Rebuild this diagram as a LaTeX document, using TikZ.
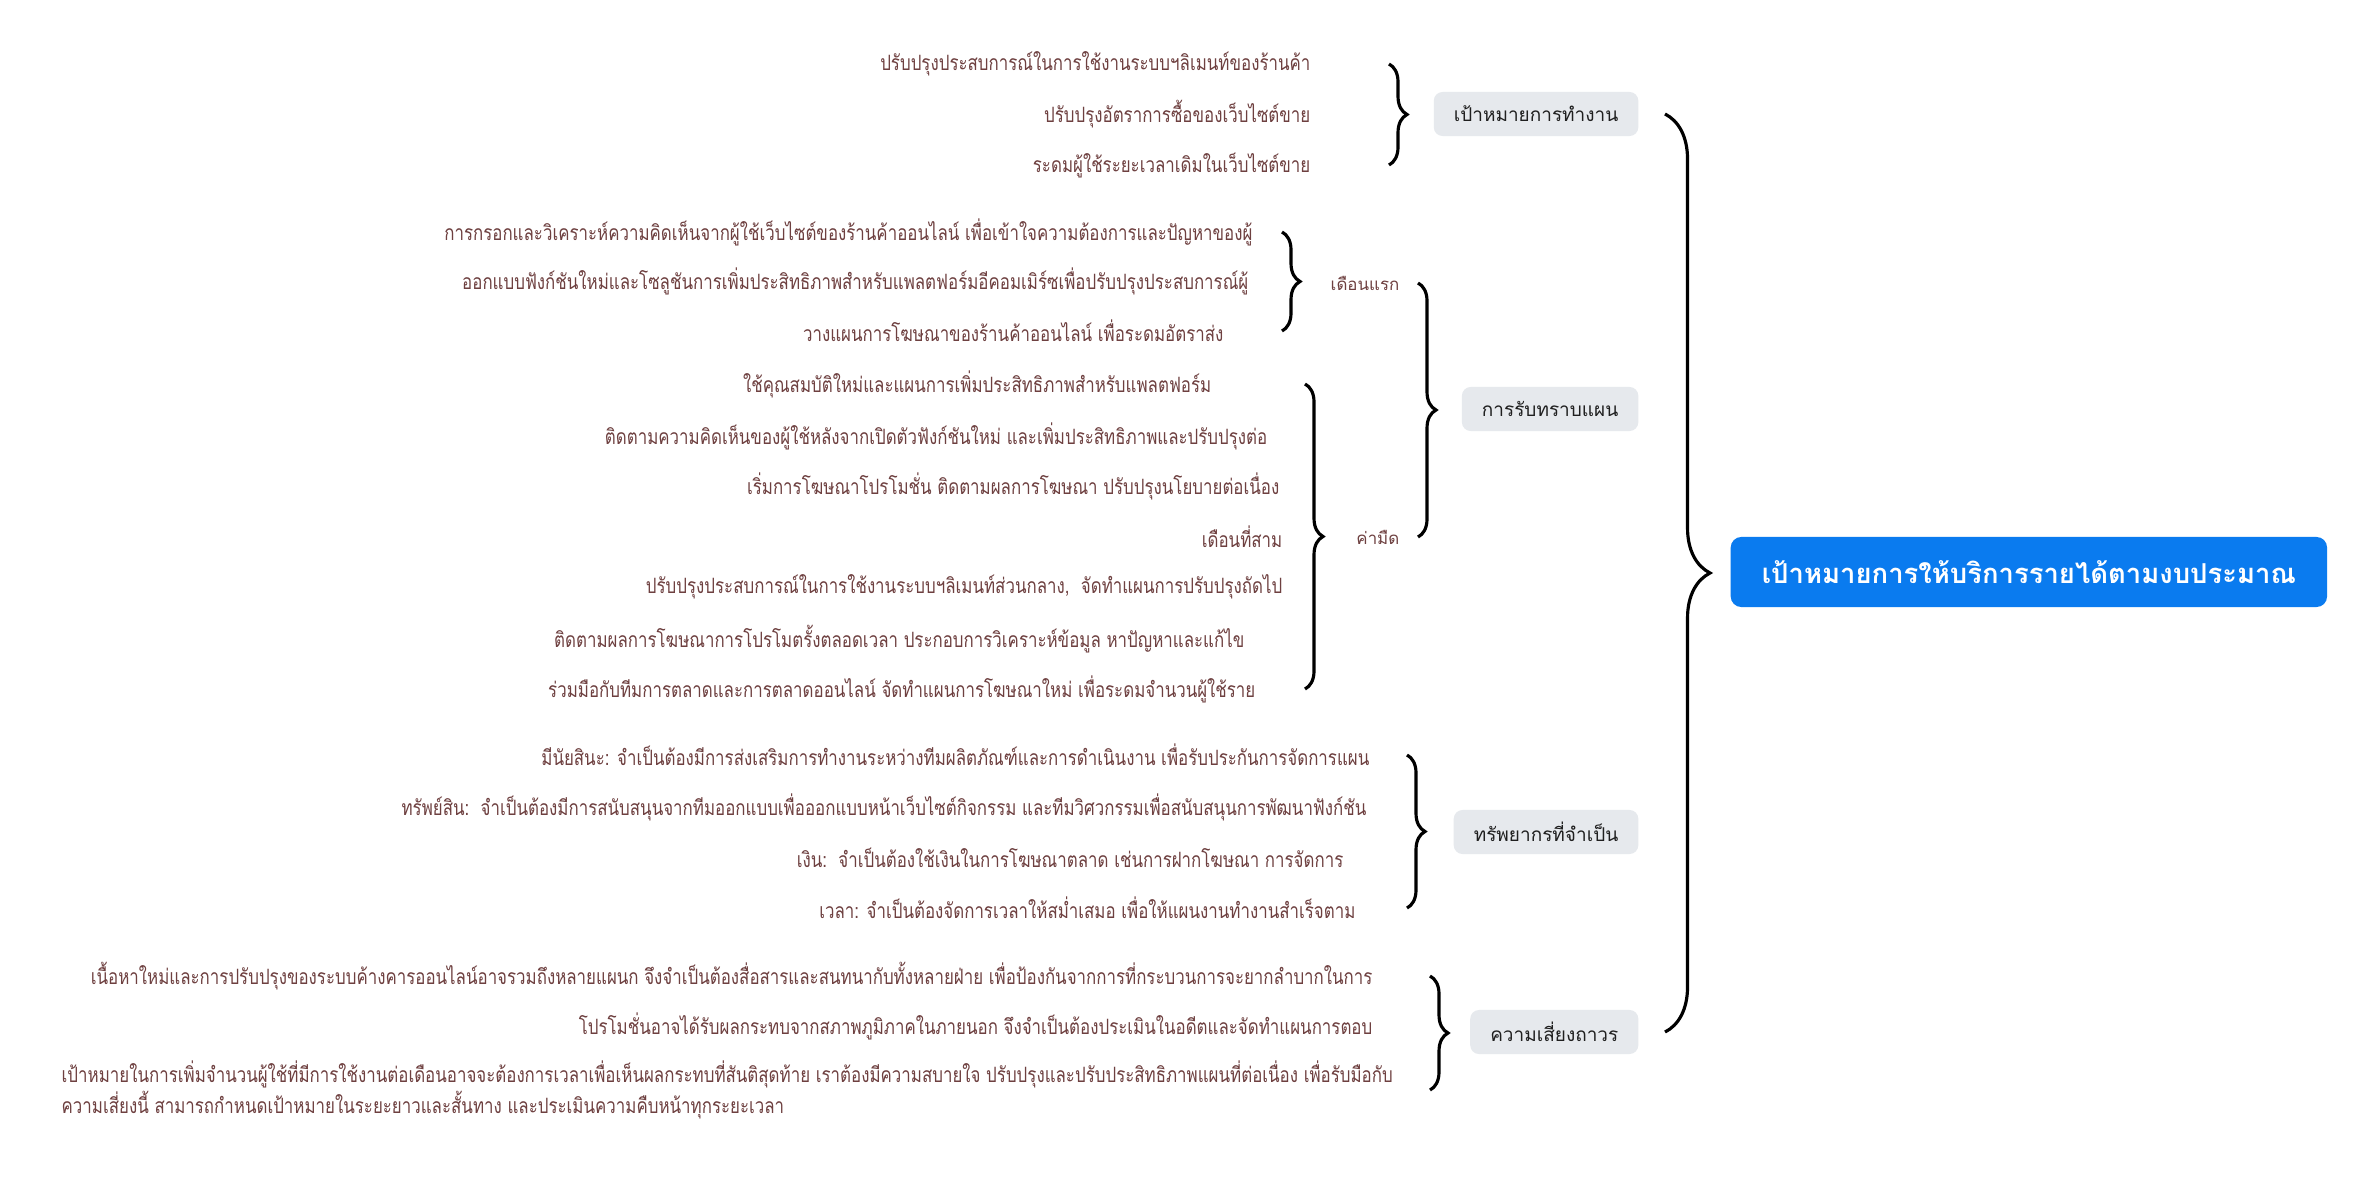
\documentclass[tikz,border=0pt]{standalone}
\usepackage{fontspec}
\usepackage{xcolor}
\usepackage{tikz}
\usetikzlibrary{decorations.pathreplacing,calc}
\newfontfamily\thaifont[Script=Thai]{Loma}
\newfontfamily\leaffont[Script=Thai,FakeStretch=0.80]{Loma}
\definecolor{rootblue}{HTML}{0A7BEF}
\definecolor{topicbg}{HTML}{E6E9ED}
\definecolor{leafink}{HTML}{6E4040}
\definecolor{ink}{HTML}{1F1F1F}
\tikzset{
  leaf/.style={anchor=east,inner sep=0pt,text=leafink,
               font=\leaffont\fontsize{6}{6.9}\selectfont},
  sublabel/.style={anchor=east,inner sep=0pt,text=leafink,
                   font=\thaifont\fontsize{4.8}{6}\selectfont},
  topic/.style={anchor=east,fill=topicbg,rounded corners=2.5pt,
                minimum height=0.44cm,inner xsep=0.2cm,text=ink,
                font=\thaifont\fontsize{5.4}{7}\selectfont},
  rootnode/.style={anchor=west,fill=rootblue,rounded corners=3pt,
                   minimum width=5.96cm,minimum height=0.7cm,text=white,
                   font=\thaifont\bfseries\fontsize{7.8}{9}\selectfont},
  brc/.style={decorate,decoration={brace,amplitude=0.18cm},
              line width=0.9pt,black},
  bigbrc/.style={decorate,decoration={brace,amplitude=0.45cm},
                 line width=0.9pt,black},
}

\begin{document}
\begin{tikzpicture}[x=0.01cm,y=-0.01cm]
  \useasboundingbox[fill=white](0,0)rectangle(2373,1179);
  % Root
  \node[rootnode](root)at(1730,572){เป้าหมายการให้บริการรายได้ตามงบประมาณ};
  % Topics
  \node[topic](goal)at(1639,114){เป้าหมายการทำงาน};
  \node[topic](plan)at(1639,409){การรับทราบแผน};
  \node[topic](res)at(1639,832){ทรัพยากรที่จำเป็น};
  \node[topic](risk)at(1639,1032){ความเสี่ยงถาวร};
  \coordinate(bx0)at(1665,0);
  \draw[bigbrc](bx0|-goal.east)--(bx0|-risk.east);
  % Goal leaves
  \node[leaf](g1)at(1311,64){ปรับปรุงประสบการณ์ในการใช้งานระบบฯลิเมนท์ของร้านค้า};
  \node[leaf](g2)at(1311,114){ปรับปรุงอัตราการซื้อของเว็บไซต์ขาย};
  \node[leaf](g3)at(1311,165){ระดมผู้ใช้ระยะเวลาเดิมในเว็บไซต์ขาย};
  \coordinate(bx1)at(1389,0);
  \draw[brc](bx1|-g1.east)--(bx1|-g3.east);
  % Plan: months
  \node[sublabel](m1)at(1400,283){เดือนแรก};
  \node[sublabel](m3)at(1400,537){ค่ามืด};
  \coordinate(bx2)at(1418,0);
  \draw[brc](bx2|-m1.east)--(bx2|-m3.east);
  % First month leaves
  \node[leaf](f1)at(1253,232){การกรอกและวิเคราะห์ความคิดเห็นจากผู้ใช้เว็บไซต์ของร้านค้าออนไลน์ เพื่อเข้าใจความต้องการและปัญหาของผู้};
  \node[leaf](f2)at(1249,281){ออกแบบฟังก์ชันใหม่และโซลูชันการเพิ่มประสิทธิภาพสำหรับแพลตฟอร์มอีคอมเมิร์ซเพื่อปรับปรุงประสบการณ์ผู้};
  \node[leaf](f3)at(1224,331){วางแผนการโฆษณาของร้านค้าออนไลน์ เพื่อระดมอัตราส่ง};
  \coordinate(bx3)at(1282,0);
  \draw[brc](bx3|-f1.east)--(bx3|-f3.east);
  % Dark-value leaves
  \foreach \n/\x/\y/\t in {
    d1/1212/384/{ใช้คุณสมบัติใหม่และแผนการเพิ่มประสิทธิภาพสำหรับแพลตฟอร์ม},
    d2/1268/436/{ติดตามความคิดเห็นของผู้ใช้หลังจากเปิดตัวฟังก์ชันใหม่ และเพิ่มประสิทธิภาพและปรับปรุงต่อ},
    d3/1280/486/{เริ่มการโฆษณาโปรโมชั่น ติดตามผลการโฆษณา ปรับปรุงนโยบายต่อเนื่อง},
    d4/1283/537/{เดือนที่สาม},
    d5/1283/587/{ปรับปรุงประสบการณ์ในการใช้งานระบบฯลิเมนท์ส่วนกลาง,\ \ จัดทำแผนการปรับปรุงถัดไป},
    d6/1245/639/{ติดตามผลการโฆษณาการโปรโมตรั้งตลอดเวลา ประกอบการวิเคราะห์ข้อมูล หาปัญหาและแก้ไข},
    d7/1256/689/{ร่วมมือกับทีมการตลาดและการตลาดออนไลน์ จัดทำแผนการโฆษณาใหม่ เพื่อระดมจำนวนผู้ใช้ราย}}{
    \node[leaf](\n)at(\x,\y){\t};
  }
  \coordinate(bx4)at(1305,0);
  \draw[brc](bx4|-d1.east)--(bx4|-d7.east);
  % Resource leaves
  \node[leaf](r1)at(1370,755){มีนัยสินะ: จำเป็นต้องมีการส่งเสริมการทำงานระหว่างทีมผลิตภัณฑ์และการดำเนินงาน เพื่อรับประกันการจัดการแผน};
  \node[leaf](r2)at(1367,807){ทรัพย์สิน:\ \ จำเป็นต้องมีการสนับสนุนจากทีมออกแบบเพื่อออกแบบหน้าเว็บไซต์กิจกรรม และทีมวิศวกรรมเพื่อสนับสนุนการพัฒนาฟังก์ชัน};
  \node[leaf](r3)at(1344,858){เงิน:\ \ จำเป็นต้องใช้เงินในการโฆษณาตลาด เช่นการฝากโฆษณา การจัดการ};
  \node[leaf](r4)at(1356,908){เวลา: จำเป็นต้องจัดการเวลาให้สม่ำเสมอ เพื่อให้แผนงานทำงานสำเร็จตาม};
  \coordinate(bx5)at(1407,0);
  \draw[brc](bx5|-r1.east)--(bx5|-r4.east);
  % Risk leaves
  \node[leaf](k1)at(1373,976){เนื้อหาใหม่และการปรับปรุงของระบบค้างคารออนไลน์อาจรวมถึงหลายแผนก จึงจำเป็นต้องสื่อสารและสนทนากับทั้งหลายฝ่าย เพื่อป้องกันจากการที่กระบวนการจะยากลำบากในการ};
  \node[leaf](k2)at(1373,1026){โปรโมชั่นอาจได้รับผลกระทบจากสภาพภูมิภาคในภายนอก จึงจำเป็นต้องประเมินในอดีตและจัดทำแผนการตอบ};
  \node[leaf,anchor=west,align=left](k3)at(61,1090){เป้าหมายในการเพิ่มจำนวนผู้ใช้ที่มีการใช้งานต่อเดือนอาจจะต้องการเวลาเพื่อเห็นผลกระทบที่สันติสุดท้าย เราต้องมีความสบายใจ ปรับปรุงและปรับประสิทธิภาพแผนที่ต่อเนื่อง เพื่อรับมือกับ\\ความเสี่ยงนี้ สามารถกำหนดเป้าหมายในระยะยาวและสั้นทาง และประเมินความคืบหน้าทุกระยะเวลา};
  \coordinate(bx6)at(1430,0);
  \draw[brc](bx6|-k1.east)--(bx6|-k3.east);
\end{tikzpicture}
\end{document}
